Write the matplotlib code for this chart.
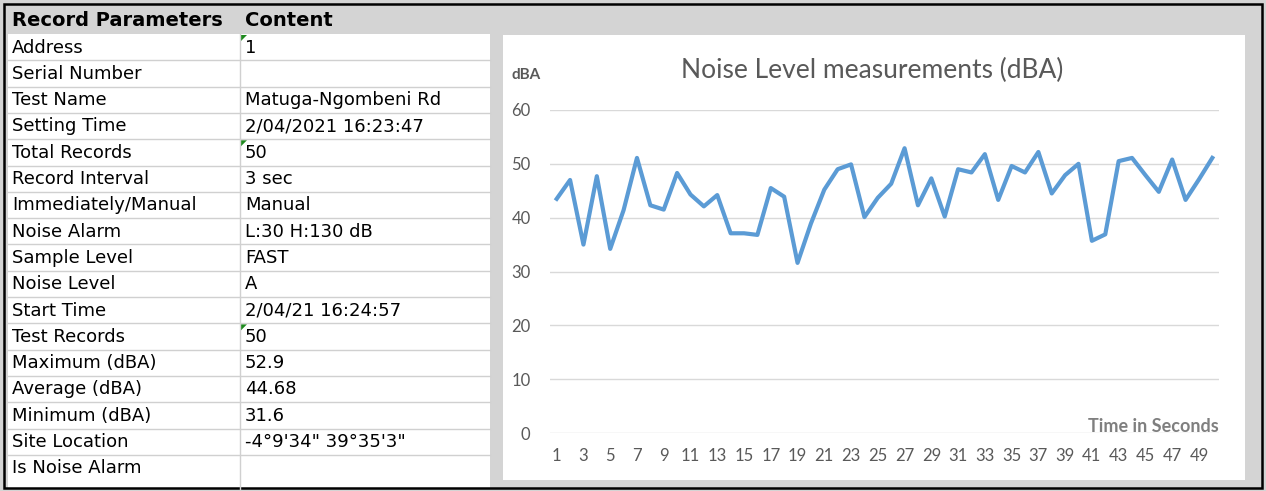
import matplotlib.pyplot as plt
from matplotlib.patches import Polygon, Rectangle

# record sheet rows
param_names = [
    "Address", "Serial Number", "Test Name", "Setting Time", "Total Records",
    "Record Interval", "Immediately/Manual", "Noise Alarm", "Sample Level",
    "Noise Level", "Start Time", "Test Records", "Maximum (dBA)",
    "Average (dBA)", "Minimum (dBA)", "Site Location", "Is Noise Alarm",
]
param_values = [
    "1", "", "Matuga-Ngombeni Rd", "2/04/2021 16:23:47", "50", "3 sec",
    "Manual", "L:30 H:130 dB", "FAST", "A", "2/04/21 16:24:57", "50",
    "52.9", "44.68", "31.6", "-4°9'34\" 39°35'3\"", "",
]
# rows carrying a cell comment marker
flagged_rows = ["Address", "Total Records", "Test Records"]

# noise readings, one per record
records = list(range(1, 51))
levels = [
    43.5, 47.0, 35.0, 47.7, 34.2, 41.4, 51.1, 42.3, 41.5, 48.3,
    44.3, 42.1, 44.2, 37.1, 37.1, 36.8, 45.5, 43.9, 31.6, 38.9,
    45.2, 49.0, 49.9, 40.1, 43.7, 46.3, 52.9, 42.3, 47.3, 40.2,
    49.0, 48.4, 51.8, 43.3, 49.6, 48.4, 52.2, 44.5, 47.9, 50.0,
    35.7, 36.9, 50.5, 51.1, 47.9, 44.8, 50.8, 43.3, 47.1, 51.1,
]
y_ticks = [0, 10, 20, 30, 40, 50, 60]

W, H = 1266, 491
GREY = "#d4d4d4"
CELL_LINE = "#d0d0d0"
TEXT_GREY = "#595959"

fig = plt.figure(figsize=(W / 100, H / 100), dpi=100)
fig.patch.set_facecolor(GREY)

# background layer in pixel coordinates
bg = fig.add_axes([0, 0, 1, 1])
bg.set_xlim(0, W)
bg.set_ylim(H, 0)
bg.axis("off")

# table
col0, col1, col2 = 8, 240, 490
top = 34
row_h = 26.3
table_bottom = 489
bg.add_patch(Rectangle((col0, top), col2 - col0, table_bottom - top,
                       facecolor="white", edgecolor="none"))
for i in range(1, len(param_names)):
    y = top + i * row_h
    bg.plot([col0, col2], [y, y], color=CELL_LINE, lw=1)
bg.plot([col1, col1], [top, table_bottom], color=CELL_LINE, lw=1)

bg.text(12, 20, "Record Parameters", fontsize=14, fontweight="bold",
        family="DejaVu Sans", va="center", ha="left")
bg.text(245, 20, "Content", fontsize=14, fontweight="bold",
        family="DejaVu Sans", va="center", ha="left")

for i, (name, val) in enumerate(zip(param_names, param_values)):
    yc = top + i * row_h + 13.5
    bg.text(12, yc, name, fontsize=13, family="DejaVu Sans",
            va="center", ha="left")
    bg.text(245, yc, val, fontsize=13, family="DejaVu Sans",
            va="center", ha="left")
    if name in flagged_rows:
        y0 = top + i * row_h + 1
        bg.add_patch(Polygon([(241, y0), (247, y0), (241, y0 + 6)],
                             closed=True, facecolor="#1e8a1e", edgecolor="none"))

# chart area
bg.add_patch(Rectangle((503, 35), 1245 - 503, 480 - 35,
                       facecolor="white", edgecolor="none"))

# outer frame
bg.add_patch(Rectangle((3.5, 3.5), 1262 - 3.5, 488 - 3.5,
                       facecolor="none", edgecolor="black", lw=1.8))

bg.text(872, 70, "Noise Level measurements (dBA)", fontsize=19,
        family="Lato", color=TEXT_GREY, ha="center", va="center")
bg.text(511, 75, "dBA", fontsize=11, family="Lato", fontweight="bold",
        color=TEXT_GREY, ha="left", va="center")
bg.text(1219, 426, "Time in Seconds", fontsize=13, family="Lato",
        fontweight="bold", color="#7f7f7f", ha="right", va="center")

# line chart
ax = fig.add_axes([550 / W, (H - 433) / H, 669 / W, 323 / H])
ax.patch.set_alpha(0)
ax.plot(records, levels, color="#5b9bd5", lw=3.0, solid_joinstyle="round")
ax.set_xlim(0.5, 50.5)
ax.set_ylim(0, 60)
ax.set_yticks(y_ticks)
ax.set_xticks(records[::2])
ax.grid(axis="y", color="#d9d9d9", lw=1)
ax.set_axisbelow(True)
for s in ax.spines.values():
    s.set_visible(False)
ax.tick_params(length=0, colors=TEXT_GREY, labelsize=12)
ax.tick_params(axis="y", pad=14)
ax.tick_params(axis="x", pad=11)
for lbl in ax.get_xticklabels() + ax.get_yticklabels():
    lbl.set_family("Lato")

fig.savefig("out.png", dpi=100, facecolor=fig.get_facecolor())
